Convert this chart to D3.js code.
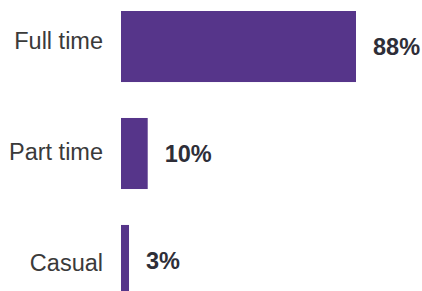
<!DOCTYPE html>
<html lang="en">
<head>
    <meta charset="utf8">
    <script type="text/javascript" src="https://d3js.org/d3.v7.min.js"></script>
    <style>
        body { margin: 0; background: #fff; }
    </style>
</head>
<body>
    <div class="chart"></div>
</body>
<script type="text/javascript">
    // data
    var categories = ["Full time", "Part time", "Casual"];
    var values = [88, 10, 3];
    var valueLabels = ["88%", "10%", "3%"];

    var width = 422, height = 291;
    var svg = d3.select("div.chart")
        .append("svg")
        .attr("width", width)
        .attr("height", height);

    // scales
    var x = d3.scaleLinear().domain([0, 88]).range([121, 356]);
    var y = d3.scaleBand().domain(categories).range([11, 296]).paddingInner(0.336).paddingOuter(0);
    // category labels sit on a slightly wider spacing than the bars
    var yLabel = d3.scaleBand().domain(categories).range([-15, 318]);

    var rows = categories.map(function(c, i) {
        return {name: c, value: values[i], label: valueLabels[i]};
    });

    // bars
    svg.append("g")
        .selectAll("rect")
        .data(rows)
        .enter()
        .append("rect")
        .attr("x", x(0))
        .attr("y", function(d) { return y(d.name); })
        .attr("width", function(d) { return x(d.value) - x(0); })
        .attr("height", y.bandwidth())
        .attr("fill", "#56358a");

    // category labels
    svg.append("g")
        .selectAll("text")
        .data(rows)
        .enter()
        .append("text")
        .attr("x", 103)
        .attr("y", function(d) { return yLabel(d.name) + yLabel.bandwidth() / 2; })
        .attr("dy", "0.36em")
        .attr("text-anchor", "end")
        .attr("font-family", "Liberation Sans, Arial, sans-serif")
        .attr("font-size", "23.5px")
        .attr("fill", "#3a3a3a")
        .text(function(d) { return d.name; });

    // value labels
    svg.append("g")
        .selectAll("text")
        .data(rows)
        .enter()
        .append("text")
        .attr("x", function(d) { return x(d.value) + 17; })
        .attr("y", function(d) { return y(d.name) + y.bandwidth() / 2; })
        .attr("dy", "0.36em")
        .attr("font-family", "Liberation Sans, Arial, sans-serif")
        .attr("font-size", "23.5px")
        .attr("font-weight", "bold")
        .attr("fill", "#2e2e38")
        .text(function(d) { return d.label; });
</script>
</html>
